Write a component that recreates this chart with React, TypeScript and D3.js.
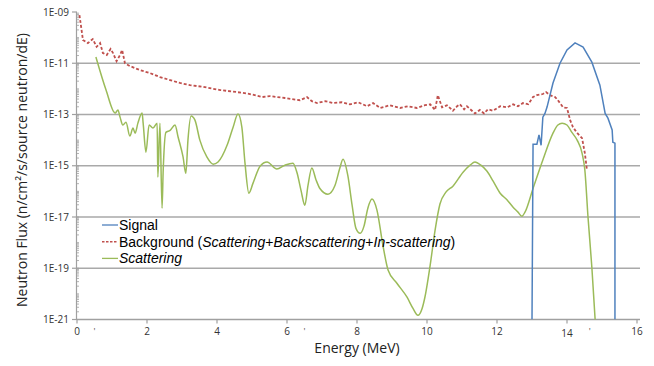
import React, { useRef, useEffect } from 'react';
import * as d3 from 'd3';

const width = 654;
const height = 366;

const xTicks = [0, 2, 4, 6, 8, 10, 12, 14, 16];
const yTickValues = [1e-9, 1e-11, 1e-13, 1e-15, 1e-17, 1e-19, 1e-21];
const yTickLabels = ['1E-09', '1E-11', '1E-13', '1E-15', '1E-17', '1E-19', '1E-21'];
// stray label marks that show up under the x axis
const strayMarks = [0.5, 6.5, 14.65];

const legendLabels = ['Signal', 'Background', 'Scattering'];

const signalEnergy = [13.0, 13.03, 13.14, 13.2, 13.26, 13.31, 13.37, 13.43, 13.6, 13.8, 14.0, 14.23,
	14.46, 14.71, 14.94, 15.09, 15.17, 15.29, 15.31, 15.37, 15.37];
const signalFlux = [1e-21, 6.9e-15, 6.9e-15, 1.6e-14, 6.3e-15, 7.9e-14, 1.1e-13, 1.95e-13, 1.7e-12,
	1.0e-11, 3.3e-11, 6.2e-11, 4.3e-11, 1.1e-11, 1.4e-12, 1.1e-13, 7.2e-14, 2.5e-14, 8.3e-15, 7.6e-15, 1e-21];

const bgEnergy = [0.07, 0.13, 0.17, 0.31, 0.45, 0.56, 0.66, 0.74, 0.85, 0.96, 1.03, 1.13, 1.23, 1.29,
	1.37, 1.51, 1.8, 2.09, 2.37, 2.66, 2.94, 3.23, 3.6, 4.09, 4.57, 4.94, 5.29, 5.51, 5.94, 6.37, 6.57,
	6.71, 6.86, 7.09, 7.31, 7.57, 7.8, 8.03, 8.29, 8.46, 8.66, 8.94, 9.23, 9.46, 9.71, 9.94, 10.09, 10.23,
	10.31, 10.36, 10.43, 10.57, 10.74, 10.86, 10.94, 11.06, 11.14, 11.26, 11.37, 11.51, 11.63, 11.74,
	11.89, 12.09, 12.29, 12.46, 12.6, 12.74, 12.89, 13.03, 13.14, 13.31, 13.4, 13.51, 13.66, 13.74,
	13.89, 14.0, 14.09, 14.17, 14.29, 14.43, 14.51, 14.57];
const bgFlux = [7.6e-10, 2.0e-10, 8.1e-11, 6.1e-11, 8.8e-11, 4.4e-11, 6.1e-11, 2.5e-11, 2.1e-11,
	3.6e-11, 2.5e-11, 1.2e-11, 2.1e-11, 3.3e-11, 1.0e-11, 7.8e-12, 5.4e-12, 4.1e-12, 2.9e-12, 2.2e-12,
	1.7e-12, 1.4e-12, 1.2e-12, 9.0e-13, 7.5e-13, 6.3e-13, 4.8e-13, 5.2e-13, 4.4e-13, 3.6e-13, 4.8e-13,
	3.3e-13, 2.8e-13, 3.3e-13, 2.8e-13, 3.0e-13, 2.5e-13, 3.0e-13, 2.1e-13, 2.8e-13, 1.8e-13, 2.3e-13,
	1.8e-13, 2.1e-13, 1.8e-13, 2.3e-13, 2.5e-13, 1.5e-13, 5.7e-13, 3.6e-13, 1.9e-13, 2.3e-13, 1.4e-13,
	2.1e-13, 2.5e-13, 1.6e-13, 2.1e-13, 1.5e-13, 1.1e-13, 1.5e-13, 1.1e-13, 1.6e-13, 1.4e-13, 2.1e-13,
	1.9e-13, 2.5e-13, 2.1e-13, 2.8e-13, 2.5e-13, 4.8e-13, 5.7e-13, 6.3e-13, 7.5e-13, 5.7e-13, 4.8e-13,
	3.6e-13, 1.9e-13, 1.8e-13, 6.0e-14, 3.2e-14, 1.9e-14, 1.2e-14, 3.1e-15, 6.8e-16];

const scatEnergy = [0.54, 0.83, 1.09, 1.17, 1.23, 1.31, 1.4, 1.51, 1.6, 1.66,
	1.74, 1.86, 1.89, 1.97, 2.06, 2.17, 2.29, 2.31, 2.37, 2.43,
	2.46, 2.54, 2.66, 2.8, 2.89, 3.03, 3.11, 3.17, 3.26, 3.37,
	3.51, 3.71, 3.89, 4.03, 4.29, 4.46, 4.6, 4.71, 4.8, 4.91,
	5.03, 5.23, 5.43, 5.71, 5.94, 6.17, 6.29, 6.4, 6.51, 6.6,
	6.71, 6.83, 6.94, 7.17, 7.37, 7.51, 7.6, 7.74, 7.86, 7.97,
	8.09, 8.2, 8.31, 8.43, 8.57, 8.74, 8.89, 9.14, 9.43, 9.6,
	9.74, 9.86, 9.94, 10.09, 10.23, 10.37, 10.54, 10.74, 11.03, 11.23,
	11.37, 11.54, 11.71, 11.89, 12.09, 12.29, 12.46, 12.6, 12.71, 12.8,
	13.03, 13.31, 13.6, 13.74, 13.86, 14.0, 14.14, 14.29, 14.43, 14.51,
	14.6, 14.71, 14.8, 14.83];
const scatFlux = [1.75e-11, 9.0e-13, 1.14e-13, 1.5e-13, 7.9e-14, 3.9e-14, 5.0e-14, 1.44e-14, 2.95e-14, 1.87e-14,
	4.6e-14, 1.14e-13, 4.6e-14, 3.4e-15, 3.9e-14, 2.95e-14, 4.6e-14, 3.6e-16, 4.6e-14, 2.2e-17,
	5.1e-16, 2.0e-14, 2.4e-14, 3.9e-14, 1.3e-14, 2.2e-15, 5.1e-16, 1.0e-14, 8.7e-14, 6.0e-14,
	1.0e-14, 2.2e-15, 1.15e-15, 1.4e-15, 6.4e-15, 3.2e-14, 1.04e-13, 3.2e-14, 1.26e-15, 8.5e-17,
	2.1e-16, 9.6e-16, 1.4e-15, 7.4e-16, 1.05e-15, 1.26e-15, 5.1e-16, 1.1e-16, 2.9e-17, 1.7e-16,
	8.1e-16, 2.8e-16, 1.3e-16, 7.8e-17, 1.7e-16, 8.1e-16, 1.8e-15, 4.0e-16, 2.9e-17, 3.6e-18,
	2.3e-18, 4.4e-18, 2.2e-17, 5.0e-17, 1.85e-17, 7.9e-19, 8.3e-20, 2.6e-20, 7.4e-21, 2.7e-21,
	1.45e-21, 2.7e-21, 7.4e-21, 1.3e-19, 3.0e-18, 3.2e-17, 9.3e-17, 1.6e-16, 5.6e-16, 1.05e-15,
	1.4e-15, 1.05e-15, 6.2e-16, 2.5e-16, 8.5e-17, 4.6e-17, 2.4e-17, 1.55e-17, 1.07e-17, 1.55e-17,
	1.3e-16, 1.66e-15, 1.87e-14, 3.9e-14, 4.6e-14, 3.9e-14, 2.0e-14, 1.0e-14, 3.1e-15, 6.8e-16,
	1.0e-17, 1.1e-19, 1.2e-21, 3e-22];

const colors = { signal: '#4f81bd', background: '#c0504d', scattering: '#9bbb59' };
const tickFont = '"Open Sans", sans-serif';

const renderChart = (ref) => {
	const svg = d3.select(ref.current);
	svg.selectAll('*').remove();

	const left = 77;
	const right = 637;
	const top = 12;
	const bottom = 319.5;

	const x = d3.scaleLinear().domain([0, 16]).range([left, right]);
	const y = d3.scaleLog().domain([1e-21, 1e-9]).range([bottom, top]);

	// gridlines (no line at the top value)
	svg.append('g')
		.selectAll('line')
		.data(yTickValues.slice(1, -1))
		.join('line')
		.attr('x1', left)
		.attr('x2', right + 3)
		.attr('y1', (d) => y(d))
		.attr('y2', (d) => y(d))
		.attr('stroke', '#a9a9a9')
		.attr('stroke-width', 1.6);

	// axes
	svg.append('line')
		.attr('x1', left).attr('x2', right + 3)
		.attr('y1', bottom).attr('y2', bottom)
		.attr('stroke', '#a0a0a0').attr('stroke-width', 1.6);
	svg.append('line')
		.attr('x1', left - 0.5).attr('x2', left - 0.5)
		.attr('y1', top).attr('y2', bottom)
		.attr('stroke', '#a0a0a0').attr('stroke-width', 1.2);

	const minorTicks = [];
	for (let e = -21; e < -9; e++) {
		for (let m = 1; m < 10; m++) minorTicks.push(m * Math.pow(10, e));
	}
	svg.append('g')
		.selectAll('line')
		.data(minorTicks)
		.join('line')
		.attr('x1', left - 0.5)
		.attr('x2', left + 2)
		.attr('y1', (d) => y(d))
		.attr('y2', (d) => y(d))
		.attr('stroke', '#a0a0a0')
		.attr('stroke-width', 0.8);
	svg.append('g')
		.selectAll('line')
		.data(yTickValues)
		.join('line')
		.attr('x1', left - 5)
		.attr('x2', left)
		.attr('y1', (d) => y(d))
		.attr('y2', (d) => y(d))
		.attr('stroke', '#a0a0a0')
		.attr('stroke-width', 1.2);
	svg.append('g')
		.selectAll('line')
		.data(xTicks)
		.join('line')
		.attr('x1', (d) => x(d))
		.attr('x2', (d) => x(d))
		.attr('y1', bottom)
		.attr('y2', bottom + 4)
		.attr('stroke', '#a0a0a0')
		.attr('stroke-width', 1.2);

	svg.append('g')
		.selectAll('text')
		.data(yTickValues)
		.join('text')
		.text((d, i) => yTickLabels[i])
		.attr('x', left - 8)
		.attr('y', (d) => y(d) + 3.5)
		.attr('text-anchor', 'end')
		.attr('font-family', tickFont)
		.attr('font-size', 10)
		.attr('fill', '#333');

	svg.append('g')
		.selectAll('text')
		.data(xTicks)
		.join('text')
		.text((d) => d)
		.attr('x', (d) => x(d))
		.attr('y', (d) => (d === 14 ? 337 : 335))
		.attr('text-anchor', 'middle')
		.attr('font-family', tickFont)
		.attr('font-size', 10)
		.attr('fill', '#333');

	svg.append('g')
		.selectAll('text')
		.data(strayMarks)
		.join('text')
		.text("'")
		.attr('x', (d) => x(d))
		.attr('y', 335)
		.attr('text-anchor', 'middle')
		.attr('font-family', tickFont)
		.attr('font-size', 9)
		.attr('fill', '#555');

	svg.append('text')
		.text('Energy (MeV)')
		.attr('x', 357)
		.attr('y', 353)
		.attr('text-anchor', 'middle')
		.attr('font-family', tickFont)
		.attr('font-size', 14)
		.attr('fill', '#222');

	svg.append('text')
		.text('Neutron Flux (n/cm²/s/source neutron/dE)')
		.attr('transform', 'translate(27,170) rotate(-90)')
		.attr('text-anchor', 'middle')
		.attr('font-family', tickFont)
		.attr('font-size', 14)
		.attr('fill', '#222');

	// series
	svg.append('clipPath')
		.attr('id', 'plot-clip')
		.append('rect')
		.attr('x', left)
		.attr('y', 0)
		.attr('width', right - left + 3)
		.attr('height', bottom);

	const plot = svg.append('g').attr('clip-path', 'url(#plot-clip)');

	const linear = d3.line().x((d) => x(d[0])).y((d) => y(d[1]));
	const smooth = d3.line().x((d) => x(d[0])).y((d) => y(d[1]))
		.curve(d3.curveMonotoneX);

	plot.append('path')
		.attr('d', smooth(scatEnergy.map((e, i) => [e, scatFlux[i]])))
		.attr('fill', 'none')
		.attr('stroke', colors.scattering)
		.attr('stroke-width', 1.5);

	plot.append('path')
		.attr('d', linear(bgEnergy.map((e, i) => [e, bgFlux[i]])))
		.attr('fill', 'none')
		.attr('stroke', colors.background)
		.attr('stroke-width', 1.8)
		.attr('stroke-dasharray', '3,2');

	plot.append('path')
		.attr('d', linear(signalEnergy.map((e, i) => [e, signalFlux[i]])))
		.attr('fill', 'none')
		.attr('stroke', colors.signal)
		.attr('stroke-width', 1.5);

	// legend
	const legend = svg.append('g')
		.attr('font-family', '"Liberation Sans", Arial, sans-serif')
		.attr('font-size', 14)
		.attr('fill', '#000');
	const legendColors = [colors.signal, colors.background, colors.scattering];
	legendLabels.forEach((label, i) => {
		const cy = 225 + i * 16.7;
		legend.append('line')
			.attr('x1', 102).attr('x2', 118)
			.attr('y1', cy).attr('y2', cy)
			.attr('stroke', legendColors[i])
			.attr('stroke-width', i === 1 ? 1.5 : 1.3)
			.attr('stroke-dasharray', i === 1 ? '2.5,1.5' : null);
		const t = legend.append('text').attr('x', 119).attr('y', cy + 5);
		if (i === 0) t.text(label);
		if (i === 1) {
			t.append('tspan').text('Background (');
			t.append('tspan').attr('font-style', 'italic').text('Scattering');
			t.append('tspan').text('+');
			t.append('tspan').attr('font-style', 'italic').text('Backscattering');
			t.append('tspan').text('+');
			t.append('tspan').attr('font-style', 'italic').text('In-scattering');
			t.append('tspan').text(')');
		}
		if (i === 2) t.attr('font-style', 'italic').text(label);
	});
};

const App = () => {
	const ref = useRef(null);

	useEffect(() => {
		renderChart(ref);
	}, []);

	return (
		<svg ref={ ref } width={ width } height={ height }
			style={ { position: 'absolute', left: 0, top: 0, background: '#fff' } }/>
	);
};

export default App;
